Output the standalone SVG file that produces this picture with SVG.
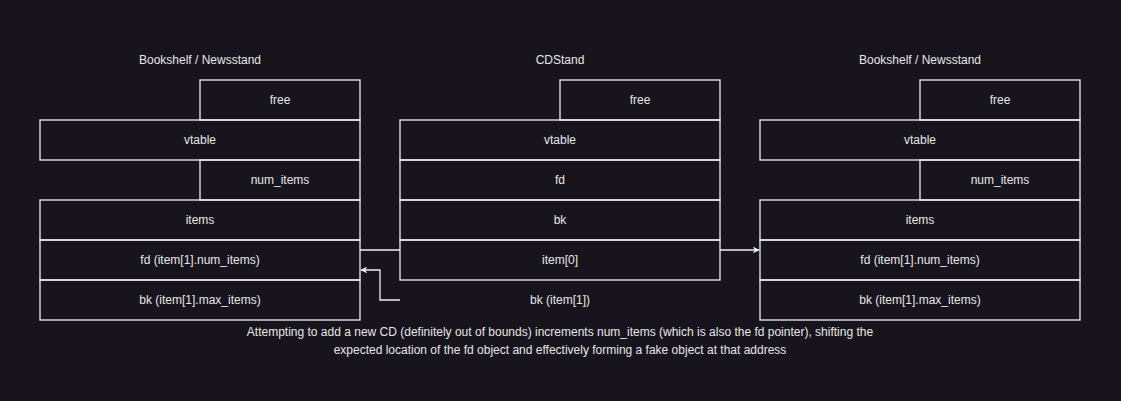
<svg xmlns="http://www.w3.org/2000/svg" width="1121" height="401" viewBox="0 0 1121 401">
<style>
.b{fill:none;stroke:#f0f0f0;stroke-width:1.3}
text{font-family:"Liberation Sans",Arial,sans-serif;font-size:12px;fill:#e6e6e6;text-anchor:middle;dominant-baseline:central}
.c{fill:none;stroke:#f0f0f0;stroke-width:1.3}
</style>
<defs>
<marker id="ar" viewBox="0 0 10 10" refX="9" refY="5" markerWidth="7" markerHeight="7" orient="auto" markerUnits="userSpaceOnUse">
<path d="M0,0 L10,5 L0,10 L3,5 Z" fill="#f0f0f0"/>
</marker>
</defs>
<rect width="1121" height="401" fill="#18141d"/>
<g id="left">
<text x="200" y="60">Bookshelf / Newsstand</text>
<g id="l-free"><rect class="b" x="200" y="80" width="160" height="40"/><text x="280" y="100">free</text></g>
<g id="l-vtable"><rect class="b" x="40" y="120" width="320" height="40"/><text x="200" y="140">vtable</text></g>
<g id="l-num"><rect class="b" x="200" y="160" width="160" height="40"/><text x="280" y="180">num_items</text></g>
<g id="l-items"><rect class="b" x="40" y="200" width="320" height="40"/><text x="200" y="220">items</text></g>
<g id="l-fd"><rect class="b" x="40" y="240" width="320" height="40"/><text x="200" y="260">fd (item[1].num_items)</text></g>
<g id="l-bk"><rect class="b" x="40" y="280" width="320" height="40"/><text x="200" y="300">bk (item[1].max_items)</text></g>
</g>
<g id="mid">
<text x="560" y="60">CDStand</text>
<g id="m-free"><rect class="b" x="560" y="80" width="160" height="40"/><text x="640" y="100">free</text></g>
<g id="m-vtable"><rect class="b" x="400" y="120" width="320" height="40"/><text x="560" y="140">vtable</text></g>
<g id="m-fd"><rect class="b" x="400" y="160" width="320" height="40"/><text x="560" y="180">fd</text></g>
<g id="m-bk"><rect class="b" x="400" y="200" width="320" height="40"/><text x="560" y="220">bk</text></g>
<g id="m-item0"><rect class="b" x="400" y="240" width="320" height="40"/><text x="560" y="260">item[0]</text></g>
<g id="m-item1"><text x="560" y="300">bk (item[1])</text></g>
</g>
<g id="right">
<text x="920" y="60">Bookshelf / Newsstand</text>
<g id="r-free"><rect class="b" x="920" y="80" width="160" height="40"/><text x="1000" y="100">free</text></g>
<g id="r-vtable"><rect class="b" x="760" y="120" width="320" height="40"/><text x="920" y="140">vtable</text></g>
<g id="r-num"><rect class="b" x="920" y="160" width="160" height="40"/><text x="1000" y="180">num_items</text></g>
<g id="r-items"><rect class="b" x="760" y="200" width="320" height="40"/><text x="920" y="220">items</text></g>
<g id="r-fd"><rect class="b" x="760" y="240" width="320" height="40"/><text x="920" y="260">fd (item[1].num_items)</text></g>
<g id="r-bk"><rect class="b" x="760" y="280" width="320" height="40"/><text x="920" y="300">bk (item[1].max_items)</text></g>
</g>
<g id="connectors">
<path class="c" d="M400,250 L360,250"/>
<path class="c" d="M400,300 L380,300 L380,270 L361,270" marker-end="url(#ar)"/>
<path class="c" d="M720,250 L759,250" marker-end="url(#ar)"/>
</g>
<g id="caption">
<text x="560" y="332">Attempting to add a new CD (definitely out of bounds) increments num_items (which is also the fd pointer), shifting the</text>
<text x="560" y="350">expected location of the fd object and effectively forming a fake object at that address</text>
</g>
</svg>
